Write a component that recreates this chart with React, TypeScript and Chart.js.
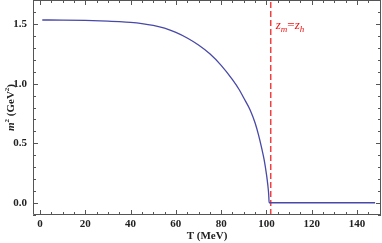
import React, { useEffect, useRef } from "react";
import { Chart, registerables } from "chart.js";

Chart.register(...registerables);

// Temperature (MeV) and m^2 (GeV^2)
const T_VALUES = [1, 10, 20, 30, 35, 40, 45, 50, 55, 60, 65, 70, 75, 80, 85, 88, 90, 92.8, 95, 96.5, 98, 99, 100, 100.6, 101, 101.2, 148];
const M2_VALUES = [1.536, 1.535, 1.532, 1.526, 1.522, 1.516, 1.506, 1.4905, 1.4675, 1.432, 1.385, 1.326, 1.252, 1.155, 1.035, 0.95, 0.88, 0.78, 0.67, 0.57, 0.45, 0.36, 0.24, 0.15, 0.07, 0.0, 0.0];
const CRITICAL_T = 101.9;

const X_MAJOR = [0, 20, 40, 60, 80, 100, 120, 140];
const X_MINOR_STEP = 5;
const Y_MAJOR = [0.0, 0.5, 1.0, 1.5];
const Y_MINOR_STEP = 0.1;

const X_MIN = -3.1, X_MAX = 150.6;
const Y_MIN = -0.103, Y_MAX = 1.704;

const LABEL_FONT = '"Liberation Serif", "DejaVu Serif", serif';

const framePlugin = {
  id: "frameTicks",
  afterDatasetsDraw(chart: any) {
    const { ctx, chartArea: a, scales } = chart;
    const xs = scales.x, ys = scales.y;
    ctx.save();
    ctx.strokeStyle = "#555";
    ctx.lineWidth = 1;
    ctx.beginPath();
    ctx.rect(Math.round(a.left) + 0.5, Math.round(a.top) + 0.5, Math.round(a.right - a.left) - 1, Math.round(a.bottom - a.top) - 1);
    ctx.stroke();
    for (let i = Math.ceil(X_MIN / X_MINOR_STEP); i * X_MINOR_STEP <= X_MAX; i++) {
      const v = i * X_MINOR_STEP;
      const major = X_MAJOR.includes(v);
      const len = major ? 5 : 3;
      const px = Math.round(xs.getPixelForValue(v)) + 0.5;
      ctx.beginPath();
      ctx.moveTo(px, a.bottom);
      ctx.lineTo(px, a.bottom - len);
      ctx.moveTo(px, a.top);
      ctx.lineTo(px, a.top + len);
      ctx.stroke();
    }
    for (let i = Math.ceil(Y_MIN / Y_MINOR_STEP); i * Y_MINOR_STEP <= Y_MAX; i++) {
      const v = i * Y_MINOR_STEP;
      const major = i % 5 === 0;
      const len = major ? 5 : 3;
      const py = Math.round(ys.getPixelForValue(v)) + 0.5;
      ctx.beginPath();
      ctx.moveTo(a.left, py);
      ctx.lineTo(a.left + len, py);
      ctx.moveTo(a.right, py);
      ctx.lineTo(a.right - len, py);
      ctx.stroke();
    }
    // x title
    ctx.fillStyle = "#222";
    ctx.font = `bold 11px ${LABEL_FONT}`;
    ctx.textAlign = "center";
    ctx.textBaseline = "middle";
    ctx.fillText("T (MeV)", (a.left + a.right) / 2, a.bottom + 21);
    // y title with italic m and superscripts
    ctx.translate(11, (a.top + a.bottom) / 2);
    ctx.rotate(-Math.PI / 2);
    const parts: [string, string, number][] = [
      ["m", `italic bold 11px ${LABEL_FONT}`, 0],
      ["2", `bold 7px ${LABEL_FONT}`, -4],
      [" (GeV", `bold 11px ${LABEL_FONT}`, 0],
      ["2", `bold 7px ${LABEL_FONT}`, -4],
      [")", `bold 11px ${LABEL_FONT}`, 0],
    ];
    let total = 0;
    for (const [t, f] of parts) { ctx.font = f; total += ctx.measureText(t).width; }
    let x = -total / 2;
    ctx.textAlign = "left";
    for (const [t, f, dy] of parts) {
      ctx.font = f;
      ctx.fillText(t, x, dy);
      x += ctx.measureText(t).width;
    }
    ctx.restore();
    // annotation z_m = z_h
    ctx.save();
    ctx.fillStyle = "#f01010";
    ctx.textBaseline = "alphabetic";
    ctx.textAlign = "left";
    let ax = xs.getPixelForValue(CRITICAL_T) + 5;
    const ay = ys.getPixelForValue(1.5) + 5;
    const ann: [string, string, number][] = [
      ["z", `italic 13px ${LABEL_FONT}`, 0],
      ["m", `italic 9px ${LABEL_FONT}`, 3],
      ["=", `13px ${LABEL_FONT}`, 0],
      ["z", `italic 13px ${LABEL_FONT}`, 0],
      ["h", `italic 9px ${LABEL_FONT}`, 3],
    ];
    for (const [t, f, dy] of ann) {
      ctx.font = f;
      ctx.fillText(t, ax, ay + dy);
      ax += ctx.measureText(t).width;
    }
    ctx.restore();
  },
};

export default function App() {
  const ref = useRef<HTMLCanvasElement | null>(null);
  useEffect(() => {
    if (!ref.current) return;
    const curve = T_VALUES.map((t, i) => ({ x: t, y: M2_VALUES[i] }));
    const chart = new Chart(ref.current, {
      type: "line",
      data: {
        datasets: [
          {
            data: curve,
            borderColor: "#4848a8",
            borderWidth: 1.3,
            pointRadius: 0,
            cubicInterpolationMode: "monotone",
          },
          {
            data: [{ x: CRITICAL_T, y: Y_MIN }, { x: CRITICAL_T, y: Y_MAX }],
            borderColor: "rgba(240,30,30,0.85)",
            borderWidth: 1.5,
            borderDash: [6, 3],
            pointRadius: 0,
          },
        ],
      },
      options: {
        animation: false,
        responsive: true,
        maintainAspectRatio: false,
        layout: { padding: { top: 0, right: 1, left: 0, bottom: 0 } },
        plugins: { legend: { display: false }, tooltip: { enabled: false } },
        scales: {
          x: {
            type: "linear",
            min: X_MIN,
            max: X_MAX,
            grid: { display: false, drawTicks: false },
            border: { display: false },
            afterBuildTicks: (s: any) => { s.ticks = X_MAJOR.map((v) => ({ value: v })); },
            afterFit: (s: any) => { s.height = 28; s.paddingLeft = 0; s.paddingRight = 0; },
            ticks: {
              padding: 3,
              maxRotation: 0,
              autoSkip: false,
              color: "#222",
              font: { family: LABEL_FONT, size: 11, weight: "bold" },
              callback: (v: any) => String(v),
            },
          },
          y: {
            type: "linear",
            min: Y_MIN,
            max: Y_MAX,
            grid: { display: false, drawTicks: false },
            border: { display: false },
            afterBuildTicks: (s: any) => { s.ticks = Y_MAJOR.map((v) => ({ value: v })); },
            afterFit: (s: any) => { s.width = 33; s.paddingTop = 0; s.paddingBottom = 0; },
            ticks: {
              padding: 6,
              autoSkip: false,
              color: "#222",
              font: { family: LABEL_FONT, size: 11, weight: "bold" },
              callback: (v: any) => Number(v).toFixed(1),
            },
          },
        },
      },
      plugins: [framePlugin],
    } as any);
    return () => chart.destroy();
  }, []);
  return (
    <div style={{ position: "absolute", left: 0, top: 0, width: 382, height: 243, background: "#fff" }}>
      <canvas ref={ref} />
    </div>
  );
}
